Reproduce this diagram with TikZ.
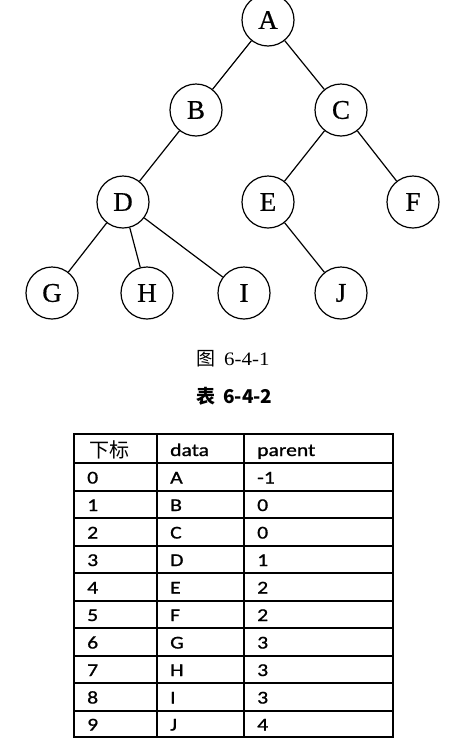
\documentclass[tikz,border=0pt]{standalone}
\usepackage{fontspec}
\setmainfont{Liberation Serif}
\newfontfamily\cjk{Noto Sans CJK SC}
\newfontfamily\tabfont[FakeStretch=1.2,FakeBold=1]{Carlito}
\newfontfamily\treefont[FakeBold=0.6]{Liberation Serif}
\newfontfamily\capfont[FakeStretch=1.1]{Liberation Serif}
\begin{document}
\begin{tikzpicture}[x=1pt,y=-1pt,
  tn/.style={circle,draw,line width=1.2pt,minimum size=52pt,inner sep=0pt,font=\treefont\fontsize{27}{27}\selectfont},
  edge/.style={line width=1.2pt},
  grid/.style={line width=1.3pt},
  cell/.style={anchor=base west,inner sep=0pt,font=\tabfont\fontsize{18}{18}\selectfont}]
\useasboundingbox[fill=white] (0,0) rectangle (470,753);
% tree
\node[tn] (A) at (268,20) {A};
\node[tn] (B) at (196,110) {B};
\node[tn] (C) at (341,110) {C};
\node[tn] (D) at (123,202) {D};
\node[tn] (E) at (268,202) {E};
\node[tn] (F) at (413,202) {F};
\node[tn] (G) at (52,293) {G};
\node[tn] (H) at (147,293) {H};
\node[tn] (I) at (244,293) {I};
\node[tn] (J) at (341,293) {J};
\draw[edge] (A) -- (B);
\draw[edge] (A) -- (C);
\draw[edge] (B) -- (D);
\draw[edge] (C) -- (E);
\draw[edge] (C) -- (F);
\draw[edge] (D) -- (G);
\draw[edge] (D) -- (H);
\draw[edge] (D) -- (I);
\draw[edge] (E) -- (J);
% captions
\node[anchor=base west,inner sep=0pt,font=\capfont\fontsize{19}{19}\selectfont] (cap1) at (196,365) {{\cjk 图}\hspace{9pt}6-4-1};
\node[anchor=base west,inner sep=0pt,font=\cjk\bfseries\fontsize{19}{19}\selectfont] (cap2) at (196,403) {表\hspace{8pt}6-4-2};
% table grid
\draw[grid] (74,434) rectangle (393,737);
\foreach \x in {157,244} \draw[grid] (\x,434) -- (\x,737);
\foreach \y in {463,491,518,546,573,601,628,656,683,711} \draw[grid] (74,\y) -- (393,\y);
% header
\node[cell,font=\cjk\fontsize{20}{20}\selectfont] (h1) at (89,457) {下标};
\node[cell] (h2) at (170,456) {data};
\node[cell] (h3) at (257,456) {parent};
% rows
\foreach \i/\d/\p/\t/\b in {0/A/-1/463/491,1/B/0/491/518,2/C/0/518/546,3/D/1/546/573,4/E/2/573/601,5/F/2/601/628,6/G/3/628/656,7/H/3/656/683,8/I/3/683/711,9/J/4/711/737}{
  \node[cell] (r\i a) at (87,{(\t+\b)/2+6.5}) {\i};
  \node[cell] (r\i b) at (170,{(\t+\b)/2+6.5}) {\d};
  \node[cell] (r\i c) at (257,{(\t+\b)/2+6.5}) {\p};
}
\end{tikzpicture}
\end{document}
